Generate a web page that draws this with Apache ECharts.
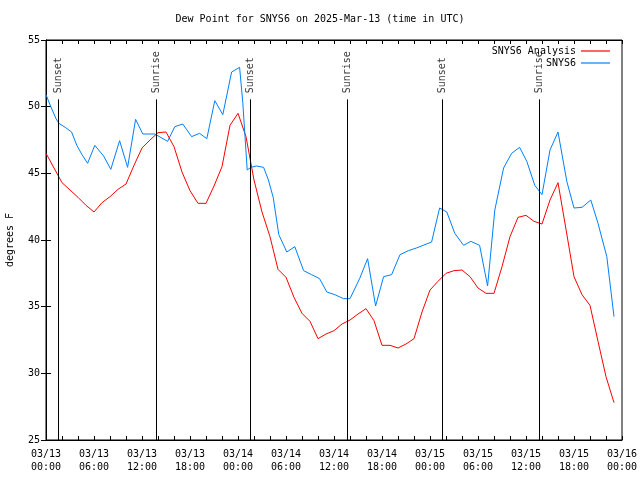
<!DOCTYPE html>
<html>
<head>
<meta charset="utf-8">
<script src="https://cdn.jsdelivr.net/npm/echarts@6/dist/echarts.min.js"></script>
<style>html,body{margin:0;padding:0;background:#fff}#c{width:640px;height:480px}</style>
</head>
<body>
<div id="c"></div>
<script>
// Hours since 2025-03-13 00:00 UTC
const xTickLabels = ['03/13\n00:00','03/13\n06:00','03/13\n12:00','03/13\n18:00','03/14\n00:00','03/14\n06:00','03/14\n12:00','03/14\n18:00','03/15\n00:00','03/15\n06:00','03/15\n12:00','03/15\n18:00','03/16\n00:00'];
const yTicks = [25,30,35,40,45,50,55];

// SNYS6 Analysis: hourly values, hour 0..71
const analysisValues = [46.5,45.4,44.3,43.75,43.2,42.6,42.1,42.8,43.25,43.8,
  44.2,45.6,46.9,47.5,48.05,48.1,47.0,45.1,43.7,42.75,
  42.75,44.05,45.5,48.6,49.5,47.75,44.5,42.1,40.25,37.8,
  37.2,35.7,34.5,33.9,32.6,32.95,33.2,33.7,34.0,34.45,
  34.85,33.95,32.1,32.1,31.9,32.2,32.6,34.6,36.25,36.9,
  37.5,37.7,37.75,37.25,36.4,36.0,36.0,38.0,40.25,41.7,
  41.85,41.4,41.2,43.0,44.3,40.8,37.25,35.9,35.1,32.4,
  29.75,27.8];

// SNYS6 observations: [hour, value]
const obsPoints = [[0,50.9],[0.6,50.0],[1.25,49.1],[1.6,48.75],[2.4,48.45],[3.2,48.1],[3.85,47.1],[4.5,46.4],[5.2,45.75],[6.1,47.1],
  [7.2,46.3],[8.1,45.3],[9.2,47.45],[10.2,45.45],[11.2,49.05],[12.1,47.95],[13.6,47.95],[15.2,47.4],[16.1,48.5],[17.1,48.7],
  [18.2,47.75],[19.2,48.0],[20.1,47.6],[21.1,50.45],[22.1,49.4],[23.2,52.6],[24.2,52.95],[24.6,50.3],[25.15,45.25],[25.6,45.45],
  [26.3,45.55],[27.2,45.45],[27.8,44.5],[28.4,43.2],[29.1,40.4],[30.1,39.1],[31.1,39.5],[32.2,37.7],[33.2,37.4],[34.2,37.1],
  [35.1,36.1],[36.1,35.9],[37.2,35.6],[38.0,35.6],[39.2,37.1],[40.2,38.6],[41.2,35.05],[42.2,37.25],[43.2,37.4],[44.25,38.9],
  [45.3,39.2],[46.3,39.4],[48.2,39.85],[49.2,42.4],[50.1,42.1],[51.1,40.5],[52.2,39.6],[53.1,39.9],[54.2,39.6],[55.2,36.55],
  [56.1,42.25],[57.2,45.4],[58.2,46.5],[59.2,46.95],[60.1,45.9],[61.1,44.1],[62.0,43.4],[63.0,46.75],[64.0,48.1],[65.1,44.4],
  [66.0,42.4],[67.0,42.45],[68.1,43.0],[69.0,41.25],[70.1,38.75],[71.0,34.25]];

const sunEventHours = [1.54, 13.8, 25.5, 37.7, 49.5, 61.7];
const sunEventNames = ['Sunset','Sunrise','Sunset','Sunrise','Sunset','Sunrise'];
const sunLineTop = 50.55;
const sunLabelBase = 51.0;

const FONT = 'DejaVu Sans Mono';
const chart = echarts.init(document.getElementById('c'), null, {renderer:'canvas'});

const analysisData = analysisValues.map((v,i)=>[i,v]);

const axisCommon = {
  axisLine:{show:true, lineStyle:{color:'#000', width:1}},
  splitLine:{show:false}
};

chart.setOption({
  animation:false,
  backgroundColor:'#fff',
  title:{text:'Dew Point for SNYS6 on 2025-Mar-13 (time in UTC)', left:'center', top:9,
    textStyle:{fontFamily:FONT, fontSize:10, fontWeight:'normal', color:'#000'}},
  grid:{left:46, right:18, top:40, bottom:40, show:true, borderColor:'#000', borderWidth:1,
    containLabel:false, outerBoundsMode:'none'},
  legend:[
    {data:['SNYS6 Analysis'], right:25, top:41, orient:'vertical', align:'right', icon:'rect', itemWidth:29, itemHeight:1.2, itemGap:0,
      textStyle:{fontFamily:FONT, fontSize:10, color:'#000'}},
    {data:['SNYS6'], right:25, top:53, orient:'vertical', align:'right', icon:'rect', itemWidth:29, itemHeight:1.2, itemGap:0,
      textStyle:{fontFamily:FONT, fontSize:10, color:'#000'}}
  ],
  xAxis:[
    Object.assign({type:'value', min:0, max:72, interval:2, position:'bottom',
      axisTick:{show:true, inside:true, length:4, lineStyle:{color:'#000'}},
      axisLabel:{fontFamily:FONT, fontSize:10, color:'#000', margin:8, lineHeight:13,
        formatter:function(v){ return (v % 6 === 0) ? xTickLabels[v/6] : ''; }}}, axisCommon),
    Object.assign({type:'value', min:0, max:72, interval:2, position:'top',
      axisTick:{show:true, inside:true, length:4, lineStyle:{color:'#000'}},
      axisLabel:{show:false}}, axisCommon)
  ],
  yAxis:[
    Object.assign({type:'value', min:yTicks[0], max:yTicks[yTicks.length-1], interval:5, position:'left',
      name:'degrees F', nameLocation:'middle', nameRotate:90, nameGap:31,
      nameTextStyle:{fontFamily:FONT, fontSize:10, color:'#000'},
      axisTick:{show:true, inside:true, length:5, lineStyle:{color:'#000'}},
      axisLabel:{fontFamily:FONT, fontSize:10, color:'#000', margin:6}}, axisCommon),
    Object.assign({type:'value', min:yTicks[0], max:yTicks[yTicks.length-1], interval:5, position:'right',
      axisTick:{show:true, inside:true, length:5, lineStyle:{color:'#000'}},
      axisLabel:{show:false}}, axisCommon)
  ],
  series:[
    {name:'SNYS6 Analysis', type:'line', data:analysisData, showSymbol:false, symbol:'none',
      lineStyle:{color:'#ff0000', width:1}, itemStyle:{color:'#ff0000'}, z:3},
    {name:'SNYS6', type:'line', data:obsPoints, showSymbol:false, symbol:'none',
      lineStyle:{color:'#0080ff', width:1}, itemStyle:{color:'#0080ff'}, z:3},
    {name:'sun', type:'scatter', symbolSize:0, silent:true, z:2,
      data:sunEventHours.map((h,i)=>({value:[h,sunLabelBase], name:sunEventNames[i]})),
      label:{show:true, position:'inside', rotate:90, align:'left', verticalAlign:'middle',
        formatter:function(p){return p.name;}, fontFamily:FONT, fontSize:10, color:'#000'},
      markLine:{silent:true, symbol:['none','none'], label:{show:false},
        lineStyle:{color:'#000', width:1, type:'solid'},
        data:sunEventHours.map(h=>[{coord:[h,sunLineTop]},{coord:[h,yTicks[0]]}])}
    }
  ]
});
</script>
</body>
</html>
